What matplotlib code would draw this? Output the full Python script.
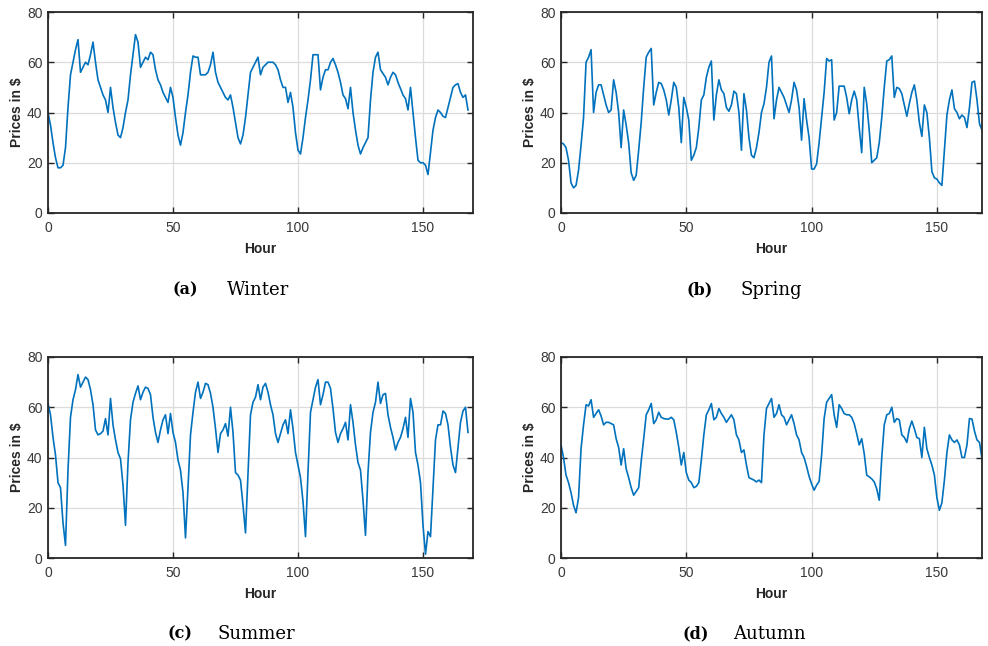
import numpy as np
import matplotlib.pyplot as plt

# hourly prices over one week
winter = [40, 35, 28, 22, 18, 18, 19, 26, 42, 55, 60, 65, 69, 56, 58, 60, 59, 63, 68, 60,
          53, 50, 47, 45, 40, 50, 42, 36, 31, 30, 34, 40, 45, 55, 63, 71, 68, 58, 60, 62,
          61, 64, 63, 57, 53, 51, 48, 46, 44, 50, 46, 38, 31, 27, 32, 40, 47, 56, 62.5, 62,
          62, 55, 55, 55, 56, 59, 64, 56, 52, 50, 48, 46, 45, 47, 42, 36, 30, 27.5, 31, 38,
          47, 56, 58, 60, 62, 55, 58, 59, 60, 60, 60, 59, 57, 53, 50, 50, 44, 48, 42, 32,
          25, 23.5, 30, 38, 45, 53, 63, 63, 63, 49, 54, 57, 57, 60, 61.5, 59, 56, 52, 47, 45.5,
          41.5, 50, 40, 33, 27, 23.5, 26, 28, 30, 45, 56, 62, 64, 57, 55.5, 54, 51, 54, 56, 55,
          52, 49.5, 47, 45.5, 41, 50, 40, 30, 21, 20, 20, 19, 15.3, 24, 33, 38, 41, 40, 38.5, 38,
          42, 46, 50, 51, 51.5, 48, 46, 47, 41]

spring = [28, 27.5, 26, 21, 12, 10, 11, 17, 27, 38, 60, 62, 65, 40, 48, 51, 51, 47, 43, 40,
          41, 53, 48, 40, 26, 41, 35, 28, 16, 13, 15, 25, 36, 50, 62, 64, 65.5, 43, 48, 52,
          51.5, 49, 45, 39, 45, 52, 50, 42, 28, 46, 42, 37, 21, 23, 26, 34, 45, 47, 54, 58,
          60.5, 37, 47, 53, 49, 47.5, 42, 40.5, 43, 48.5, 47.5, 40, 25, 47.5, 41, 30, 23, 22, 26, 32,
          40, 43.5, 50, 60, 62.5, 37.5, 45, 50, 48, 46, 43, 40, 45, 52, 49, 42, 29, 45.5, 37, 30,
          17.5, 17.5, 19.5, 28, 38, 48, 61.5, 60.5, 61, 37, 40, 50.5, 50.5, 50.5, 46, 39.5, 45, 48.5, 45, 34,
          24, 50, 43.5, 33, 20, 21, 22, 28, 38, 50, 60.5, 61, 62.5, 46, 50, 49.5, 47.5, 43, 38.5, 43.5,
          48, 51, 45, 36, 30.5, 43, 40, 30, 16.5, 14, 13.5, 12, 11, 25, 39, 45, 49, 41.5, 40, 37.5,
          39, 38, 34, 42, 52, 52.5, 45, 35.5, 33]

summer = [61.5, 57, 48, 41, 30, 28, 14, 5, 35, 56, 63, 67, 73, 68, 70, 72, 71, 67, 61, 51,
          49, 49.5, 50.5, 55.5, 49, 63.5, 53, 47, 42, 39.5, 29, 13, 38, 55, 62, 65.5, 68.5, 63, 66, 68,
          67.5, 65, 56, 50, 46, 51, 55, 57, 49.5, 57.5, 50, 46, 39, 35, 26, 8, 28, 49, 58, 66,
          70, 63.5, 66, 69.5, 69, 65.5, 60, 51.5, 42, 49.5, 51, 53.5, 48.5, 60, 50, 34, 33, 31, 21, 10,
          34, 57, 62, 64, 69, 63, 68, 69.5, 66, 61, 57, 49.5, 46, 49.5, 53, 55, 49.5, 59, 51.5, 42,
          37, 32, 22.5, 8.5, 34, 58, 63, 68, 71, 61, 65, 70, 70, 67.5, 59.5, 50, 46, 49.5, 51.5, 54,
          47, 61, 54, 45, 38, 35, 23, 9, 34, 50, 58, 62, 70, 61.5, 65, 65.5, 57, 52, 48, 43,
          46, 48, 51.5, 56, 48, 63.5, 58, 42, 37, 30, 13, 1.5, 10.5, 8.5, 28, 47, 53, 53, 58.5, 57.5,
          53, 44, 37, 34, 44, 54, 58.5, 60, 50]

autumn = [45, 40, 33, 30, 26, 21, 18, 24, 43.5, 53, 61, 60.5, 63, 56, 57.5, 59, 56.5, 53, 54, 54,
          53.5, 53, 47.5, 44, 37, 43.5, 35.5, 32, 28, 25, 26.5, 28, 38.5, 47.5, 57, 59, 61.5, 53.5, 55, 58,
          56, 55.5, 55.3, 55.3, 56, 55, 50, 44, 37, 42, 34, 31, 30, 28, 28.5, 30, 39, 49, 57, 59,
          61.5, 55, 56, 59.5, 57.5, 56, 54, 55.5, 57, 55, 49, 47, 42, 43, 37, 32, 31.5, 31, 30.3, 31,
          30, 49, 59.5, 61.5, 63.5, 56, 57.5, 61, 57, 56, 53, 55, 57, 53.5, 49, 47, 42, 40, 36.5, 32.5,
          29.5, 27, 29, 30.5, 41, 55.5, 62, 63.5, 65, 57, 52, 61, 59.5, 57.5, 57, 57, 56, 53.5, 49.5, 45,
          47.5, 41.5, 33, 32.3, 31.5, 30.3, 27.5, 23, 40, 53, 57, 57.5, 60, 54, 55.5, 55, 49, 48, 46, 51.5,
          54.5, 51.5, 48, 47.5, 40, 52, 43.5, 40, 37, 33, 24, 19, 22, 31, 42, 49, 47, 46, 47, 45,
          40, 40, 45, 55.5, 55.3, 50.5, 47, 46, 39.5]

series = [winter, spring, summer, autumn]
tags = ['(a)', '(b)', '(c)', '(d)']
seasons = ['Winter', 'Spring', 'Summer', 'Autumn']

W, H = 988, 646
fig = plt.figure(figsize=(W / 100, H / 100), dpi=100)
plt.rcParams['font.family'] = ['Liberation Sans', 'DejaVu Sans']

# axes boxes in pixels: left, top, right, bottom
boxes = [(48, 12, 473, 213), (561, 12, 982, 213), (48, 357, 473, 558), (561, 357, 982, 558)]
xmax = [170, 168, 170, 168]
caps = [(173, 227, 290), (686, 740, 290), (167, 217, 634), (683, 733, 634)]

for i in range(4):
    l, t, r, b = boxes[i]
    ax = fig.add_axes([l / W, 1 - b / H, (r - l) / W, (b - t) / H])
    y = series[i]
    ax.plot(np.arange(len(y)), y, color='#0072BD', lw=1.2)
    ax.set_xlim(0, xmax[i])
    ax.set_ylim(0, 80)
    ax.set_xticks([0, 50, 100, 150])
    ax.set_yticks([0, 20, 40, 60, 80])
    ax.grid(True, color='#dcdcdc', lw=0.9)
    ax.set_axisbelow(True)
    ax.tick_params(direction='in', top=True, right=True, length=4, width=1,
                   labelsize=10, labelcolor='#383838', color='#262626', pad=6)
    ax.tick_params(axis='y', pad=4)
    for s in ax.spines.values():
        s.set_color('#262626')
        s.set_linewidth(1.3)
    ax.set_xlabel('Hour', fontsize=10, fontweight='bold', color='#262626', labelpad=5)
    ax.set_ylabel('Prices in $', fontsize=10, fontweight='bold', color='#262626', labelpad=2)

    x1, x2, yc = caps[i]
    fig.text(x1 / W, 1 - yc / H, tags[i], family='DejaVu Serif', fontsize=11.5,
             fontweight='bold', ha='left', va='center')
    fig.text(x2 / W, 1 - yc / H, seasons[i], family='DejaVu Serif', fontsize=13,
             ha='left', va='center')

fig.savefig('out.png', dpi=100)
